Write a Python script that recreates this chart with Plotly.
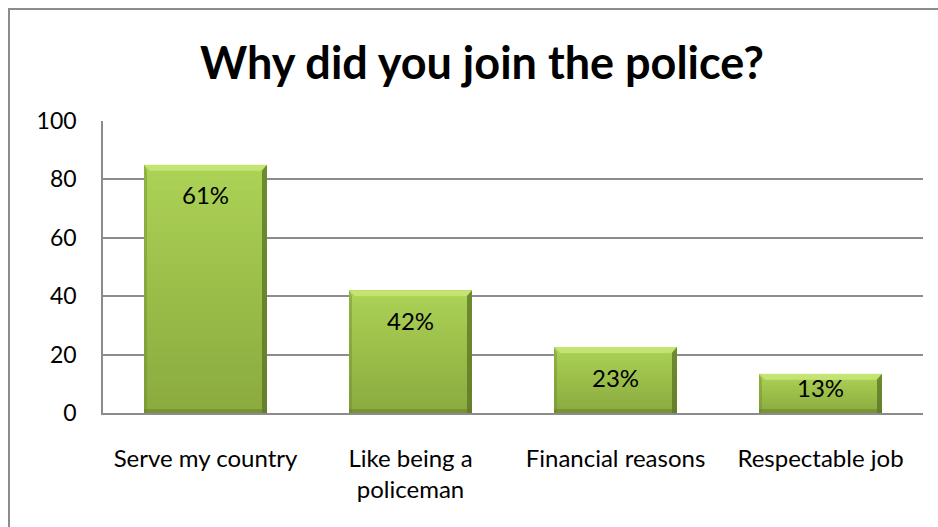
import plotly.graph_objects as go

# Survey data
categories = ["Serve my country", "Like being a policeman", "Financial reasons", "Respectable job"]
tick_text = ["Serve my country", "Like being a<br>policeman", "Financial reasons", "Respectable job"]
counts = [85, 42, 22.6, 13.4]
pct_labels = ["61%", "42%", "23%", "13%"]

W, H = 938, 527
ML, MR, MT, MB = 103, 15, 121, 114
YMAX = 100
BAR_W = 0.6

plot_w = W - ML - MR
plot_h = H - MT - MB
px_per_x = plot_w / len(categories)
px_per_y = plot_h / YMAX

FONT = "Lato, 'Open Sans', sans-serif"


def lerp(c1, c2, t):
    return "rgb(%d,%d,%d)" % tuple(round(a + (b - a) * t) for a, b in zip(c1, c2))


BOTTOM_C = (138, 170, 62)
TOP_C = (172, 210, 86)

fig = go.Figure()
xs = list(range(len(categories)))

# Vertical gradient: stacked slices of each bar
N = 30
for k in range(N):
    fig.add_trace(go.Bar(
        x=xs, y=[v / N for v in counts], base=[v * k / N for v in counts],
        width=BAR_W, marker=dict(color=lerp(BOTTOM_C, TOP_C, (k + 0.5) / N), line=dict(width=0)),
        showlegend=False, hoverinfo="skip",
    ))

# Bevel edges
bev_x = 6 / px_per_x
bev_y = 6 / px_per_y
edge_x = 5 / px_per_x
for i, v in enumerate(counts):
    x0, x1 = i - BAR_W / 2, i + BAR_W / 2
    # top highlight
    fig.add_trace(go.Scatter(
        x=[x0, x1, x1 - bev_x, x0 + bev_x, x0], y=[v, v, v - bev_y, v - bev_y, v],
        fill="toself", fillcolor="rgba(200,232,120,0.85)", line=dict(width=0),
        mode="lines", showlegend=False, hoverinfo="skip"))
    # right shadow
    fig.add_trace(go.Scatter(
        x=[x1, x1, x1 - edge_x, x1 - edge_x, x1], y=[v, 0, 0, v - bev_y, v],
        fill="toself", fillcolor="rgba(90,115,35,0.75)", line=dict(width=0),
        mode="lines", showlegend=False, hoverinfo="skip"))
    # left shade
    fig.add_trace(go.Scatter(
        x=[x0, x0, x0 + edge_x * 0.6, x0 + edge_x * 0.6, x0], y=[v, 0, 0, v - bev_y, v],
        fill="toself", fillcolor="rgba(110,140,45,0.45)", line=dict(width=0),
        mode="lines", showlegend=False, hoverinfo="skip"))
    # bottom shade
    fig.add_trace(go.Scatter(
        x=[x0, x1, x1, x0, x0], y=[0, 0, 4 / px_per_y, 4 / px_per_y, 0],
        fill="toself", fillcolor="rgba(95,120,40,0.45)", line=dict(width=0),
        mode="lines", showlegend=False, hoverinfo="skip"))

# Percentage labels near the top of each bar
for i, (v, lab) in enumerate(zip(counts, pct_labels)):
    bar_px = v * px_per_y
    off = min(30, bar_px - 25)
    fig.add_annotation(x=i, y=v, text=lab, showarrow=False, yanchor="middle",
                       yshift=-off, font=dict(family=FONT, size=24, color="black"))

# Outer chart frame
fig.add_shape(type="rect", xref="paper", yref="paper",
              x0=(9 - ML) / plot_w, x1=(W + 10 - ML) / plot_w,
              y0=-(H + 10 - MT - plot_h) / plot_h, y1=1 + (MT - 9) / plot_h,
              line=dict(color="#8c8c8c", width=2), layer="below")

fig.update_layout(
    width=W, height=H,
    margin=dict(l=ML, r=MR, t=MT, b=MB),
    paper_bgcolor="white", plot_bgcolor="white",
    barmode="stack", bargap=0.4,
    title=dict(text="<b>Why did you join the police?</b>", x=482 / W, xanchor="center",
               y=1 - 63 / H, yanchor="middle",
               font=dict(family=FONT, size=45, color="black")),
    xaxis=dict(tickmode="array", tickvals=xs, ticktext=tick_text, range=[-0.5, 3.5],
               showgrid=False, showline=True, linecolor="#8c8c8c", linewidth=2,
               ticks="", ticklabelstandoff=23,
               tickfont=dict(family=FONT, size=24, color="black")),
    yaxis=dict(range=[0, YMAX], tickvals=[0, 20, 40, 60, 80, 100],
               showgrid=True, gridcolor="#8c8c8c", gridwidth=1.5,
               showline=True, linecolor="#8c8c8c", linewidth=1.5, zeroline=False,
               ticks="", ticklabelstandoff=20,
               tickfont=dict(family=FONT, size=23, color="black")),
)

fig.write_html("out.html")
